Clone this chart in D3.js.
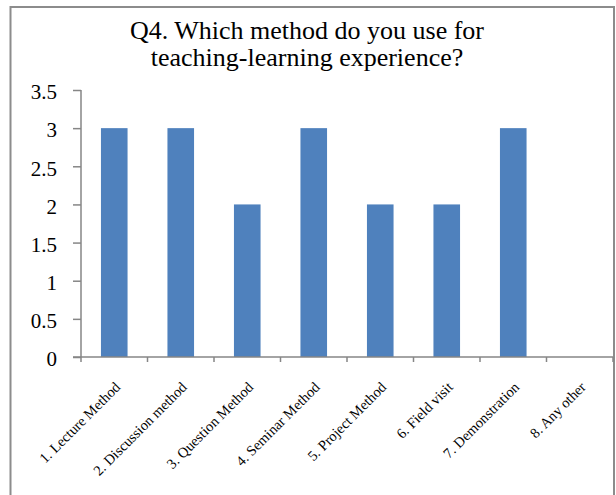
<!DOCTYPE html>
<html>
<head>
<meta charset="utf-8">
<script src="https://cdn.jsdelivr.net/npm/d3@7"></script>
<style>
  body { margin: 0; background: #fff; }
</style>
</head>
<body>
<div id="chart"></div>
<script>
var categories = ["1. Lecture Method", "2. Discussion method", "3. Question Method",
    "4. Seminar Method", "5. Project Method", "6. Field visit", "7. Demonstration", "8. Any other"];
var values = [3, 3, 2, 3, 2, 2, 3, 0];
var yTicks = [0, 0.5, 1, 1.5, 2, 2.5, 3, 3.5];
var titleLines = ["Q4. Which method do you use for", "teaching-learning experience?"];

var serif = "'Times New Roman', Tinos, serif";
var width = 616, height = 495;
var svg = d3.select("#chart").append("svg")
    .attr("width", width)
    .attr("height", height);

// outer chart frame (bottom edge is cropped off in the reference)
svg.append("rect")
    .attr("x", 10.5).attr("y", 7)
    .attr("width", 603.5).attr("height", 500)
    .attr("fill", "none")
    .attr("stroke", "#8c8c8c")
    .attr("stroke-width", 2);

// title
svg.selectAll(".title")
    .data(titleLines)
    .enter().append("text")
    .attr("class", "title")
    .attr("x", 307)
    .attr("y", function (d, i) { return 39 + i * 27; })
    .attr("text-anchor", "middle")
    .style("font-family", serif)
    .style("font-size", "26px")
    .attr("fill", "#000")
    .text(function (d) { return d; });

var x = d3.scaleBand().domain(categories).range([81, 613]).padding(0);
var y = d3.scaleLinear().domain([0, 3.5]).range([357, 90]);

var axisColor = "#868686";

// y axis
var yAxis = svg.append("g")
    .attr("transform", "translate(81,0)")
    .call(d3.axisLeft(y).tickValues(yTicks).tickSize(8).tickFormat(d3.format("")));
yAxis.select(".domain").attr("stroke", axisColor).attr("stroke-width", 1.5).attr("d", "M0,90V357");
yAxis.selectAll(".tick line").attr("stroke", axisColor).attr("stroke-width", 1.5);
yAxis.selectAll(".tick text")
    .attr("x", -24)
    .attr("dy", "0.42em")
    .style("font-size", "21px")
    .style("font-family", serif)
    .attr("fill", "#000");

// bars
var bw = x.bandwidth();
svg.selectAll(".bar")
    .data(values)
    .enter().append("rect")
    .attr("class", "bar")
    .attr("x", function (d, i) { return x(categories[i]) + bw * 0.3; })
    .attr("width", bw * 0.4)
    .attr("y", function (d) { return y(d); })
    .attr("height", function (d) { return y(0) - y(d); })
    .attr("fill", "#4f81bd");

// x axis line and tick marks at band edges
svg.append("line")
    .attr("x1", 73).attr("x2", 613)
    .attr("y1", y(0)).attr("y2", y(0))
    .attr("stroke", axisColor).attr("stroke-width", 1.5);
var edges = categories.map(function (c) { return x(c); }).concat([x.range()[1]]);
svg.selectAll(".xtick")
    .data(edges)
    .enter().append("line")
    .attr("x1", function (d) { return d; }).attr("x2", function (d) { return d; })
    .attr("y1", y(0)).attr("y2", y(0) + 5)
    .attr("stroke", axisColor).attr("stroke-width", 1.5);

// rotated category labels
svg.selectAll(".xlabel")
    .data(categories)
    .enter().append("text")
    .attr("class", "xlabel")
    .attr("transform", function (d) {
        return "translate(" + (x(d) + bw / 2 + 7) + "," + 388 + ") rotate(-45)";
    })
    .attr("text-anchor", "end")
    .style("font-family", serif)
    .style("font-size", "14.5px")
    .attr("fill", "#000")
    .text(function (d) { return d; });
</script>
</body>
</html>
